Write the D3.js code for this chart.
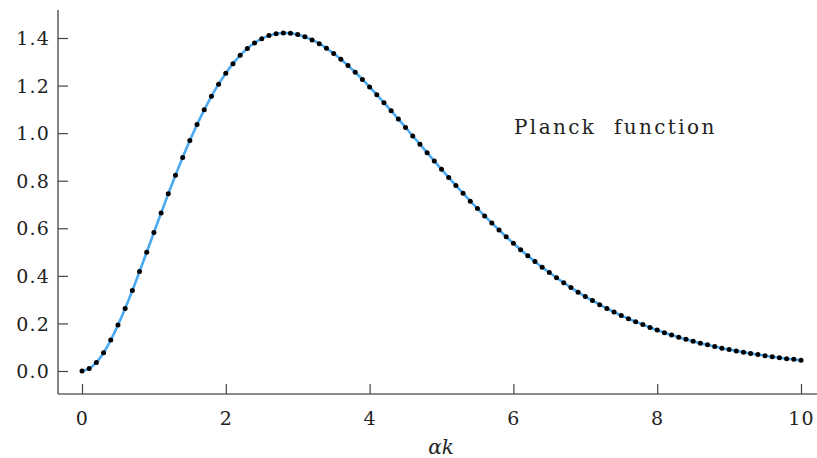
<!DOCTYPE html>
<html>
<head>
<meta charset="utf-8">
<script src="https://cdn.jsdelivr.net/npm/d3@7"></script>
<style>
html,body{margin:0;padding:0;background:#fff;}
svg{display:block;}
text{font-family:"DejaVu Serif",serif;fill:#222;}
</style>
</head>
<body>
<svg id="chart" width="817" height="458"></svg>
<script>
const xValues = d3.range(0, 101).map(i => i / 10);
const yValues = [
0.000,0.010,0.036,0.077,0.130,0.193,0.263,0.338,0.418,0.499,
0.582,0.664,0.745,0.823,0.898,0.969,1.036,1.098,1.155,1.206,
1.252,1.292,1.327,1.356,1.379,1.397,1.410,1.418,1.421,1.420,
1.415,1.405,1.392,1.376,1.357,1.335,1.311,1.284,1.256,1.226,
1.194,1.161,1.128,1.094,1.059,1.024,0.988,0.953,0.918,0.883,
0.848,0.814,0.780,0.747,0.714,0.683,0.652,0.622,0.593,0.564,
0.537,0.510,0.485,0.460,0.436,0.414,0.392,0.371,0.351,0.331,
0.313,0.296,0.279,0.263,0.248,0.233,0.220,0.207,0.195,0.183,
0.172,0.161,0.151,0.142,0.133,0.125,0.117,0.110,0.103,0.096,
0.090,0.084,0.079,0.074,0.069,0.064,0.060,0.056,0.052,0.049,
0.045];
const xTicks = [0, 2, 4, 6, 8, 10];
const yTicks = [0.0, 0.2, 0.4, 0.6, 0.8, 1.0, 1.2, 1.4];
const seriesLabel = "Planck  function";
const xAxisLabel = "αk";

const svg = d3.select("#chart");
const x = d3.scaleLinear().domain([0, 10]).range([82, 801]);
const y = d3.scaleLinear().domain([0, 1.4]).range([371, 38]);
const pLeft = 58, pBottom = 394, pTop = 10, pRight = 817;

// spines
svg.append("line").attr("x1", pLeft).attr("x2", pLeft).attr("y1", pTop).attr("y2", pBottom)
  .attr("stroke", "#666").attr("stroke-width", 1.6);
svg.append("line").attr("x1", pLeft).attr("x2", pRight).attr("y1", pBottom).attr("y2", pBottom)
  .attr("stroke", "#666").attr("stroke-width", 1.6);

// y axis
const yAxis = d3.axisRight(y).tickValues(yTicks).tickSize(10).tickFormat(d3.format(".1f"));
const gy = svg.append("g").attr("transform", `translate(${pLeft},0)`).call(yAxis);
gy.select(".domain").remove();
gy.selectAll(".tick line").attr("stroke", "#444").attr("stroke-width", 1.2);
gy.selectAll(".tick text").attr("x", -8).attr("text-anchor", "end")
  .style("font-size", "19px").style("letter-spacing", "1.2px").style("font-family", "DejaVu Serif")
  .attr("fill", "#222").attr("dy", "0.35em");

// x axis
const xAxis = d3.axisTop(x).tickValues(xTicks).tickSize(10).tickFormat(d3.format("d"));
const gx = svg.append("g").attr("transform", `translate(0,${pBottom})`).call(xAxis);
gx.select(".domain").remove();
gx.selectAll(".tick line").attr("stroke", "#444").attr("stroke-width", 1.2);
gx.selectAll(".tick text").attr("y", 31).attr("dy", 0)
  .style("font-size", "19px").style("letter-spacing", "1.2px").style("font-family", "DejaVu Serif").attr("fill", "#222");

// line
const pts = xValues.map((v, i) => [v, yValues[i]]);
const line = d3.line().x(d => x(d[0])).y(d => y(d[1])).curve(d3.curveCatmullRom);
svg.append("path").datum(pts).attr("d", line).attr("fill", "none")
  .attr("stroke", "#4aaaf2").attr("stroke-width", 2.6);

// dots
svg.append("g").selectAll("circle").data(pts).join("circle")
  .attr("cx", d => x(d[0])).attr("cy", d => y(d[1])).attr("r", 2.5).attr("fill", "#000");

// labels
svg.append("text").attr("x", 514).attr("y", 134).text(seriesLabel)
  .style("font-size", "20px").style("letter-spacing", "2.4px").style("white-space", "pre");
svg.append("text").attr("x", 441).attr("y", 454).attr("text-anchor", "middle").text(xAxisLabel)
  .style("font-size", "20px").style("font-style", "italic");
</script>
</body>
</html>
